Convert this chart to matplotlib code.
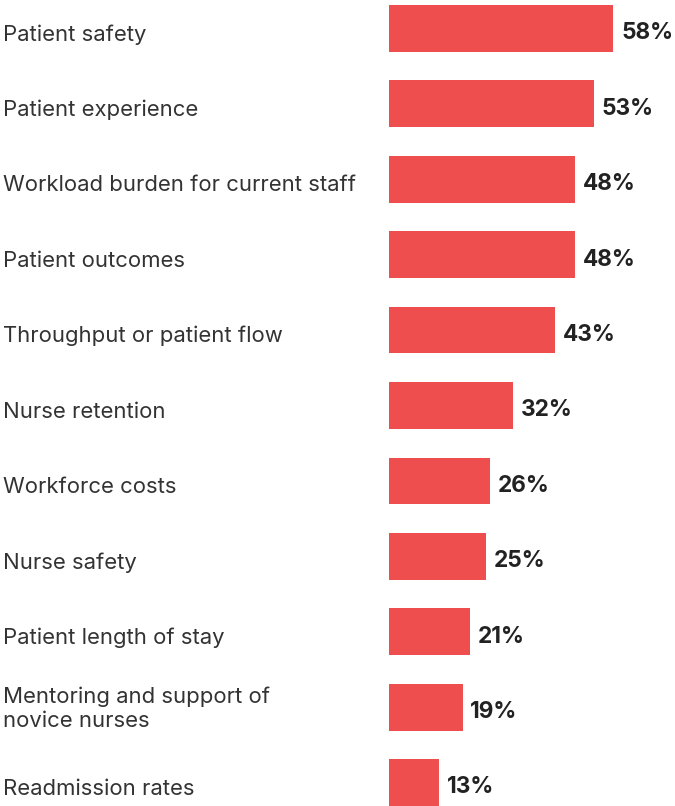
import matplotlib.pyplot as plt
from matplotlib import transforms

categories = [
    "Patient safety",
    "Patient experience",
    "Workload burden for current staff",
    "Patient outcomes",
    "Throughput or patient flow",
    "Nurse retention",
    "Workforce costs",
    "Nurse safety",
    "Patient length of stay",
    "Mentoring and support of\nnovice nurses",
    "Readmission rates",
]
values = [58, 53, 48, 48, 43, 32, 26, 25, 21, 19, 13]

BAR_COLOR = "#EF4E4E"
W, H = 675, 806

fig = plt.figure(figsize=(W / 100, H / 100), dpi=100)
# axes spans from the bar left edge to the right border
ax = fig.add_axes([389 / W, 0, (W - 389) / W, (H - 5) / H])

bar_h = 0.62
ypos = list(range(len(categories)))
ax.barh(ypos, values, height=bar_h, color=BAR_COLOR, edgecolor="none")

ax.set_xlim(0, (W - 389) / 3.87)
ax.set_ylim(len(categories) - 1 + bar_h / 2, -bar_h / 2)
ax.axis("off")

# value labels
for y, v in zip(ypos, values):
    ax.annotate(f"{v}%", xy=(v, y), xytext=(5.5, -3.5), textcoords="offset points",
                ha="left", va="center", fontsize=16.3, fontweight="bold",
                color="#222222", family="Inter")

# category labels, placed in figure pixel x / data y
trans = transforms.blended_transform_factory(fig.transFigure, ax.transData)
for y, cat in zip(ypos, categories):
    dy = 0.02 if "\n" in cat else 0.08
    fig.text(3 / W, y + dy, cat, transform=trans, ha="left", va="center",
             fontsize=15.9, color="#333333", family="Inter",
             linespacing=1.2)

fig.savefig("out.png", dpi=100)
